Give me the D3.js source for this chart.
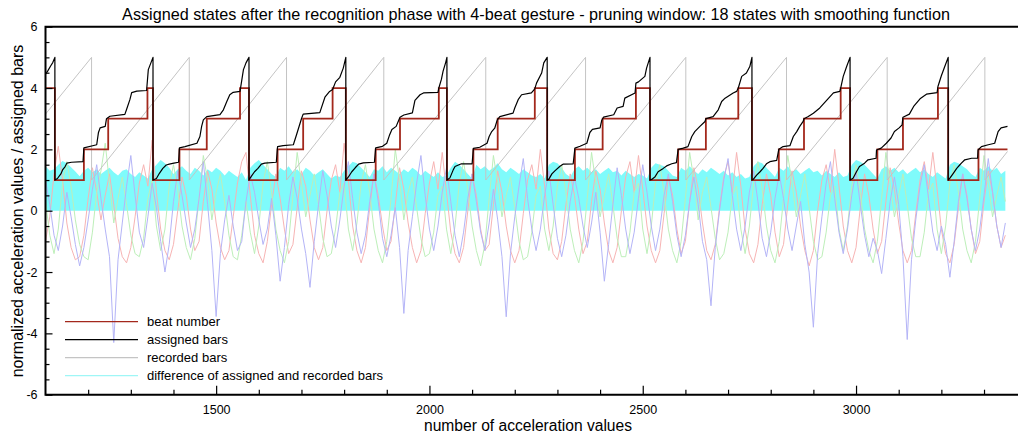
<!DOCTYPE html>
<html>
<head>
<meta charset="utf-8">
<script src="https://cdn.jsdelivr.net/npm/d3@7"></script>
<style>
  body { margin: 0; background: #fff; }
  svg { display: block; font-family: "Liberation Sans", Arial, Helvetica, sans-serif; }
</style>
</head>
<body>
<svg id="chart" width="1018" height="436"></svg>
<script>
// ---- data ----
let titleText = "Assigned states after the recognition phase with 4-beat gesture - pruning window: 18 states with smoothing function"
let xLabel = "number of acceleration values"
let yLabel = "normalized acceleration values / assigned bars"
let legendLabels = ["beat number", "assigned bars", "recorded bars", "difference of assigned and recorded bars"]

let xMajorTicks = [1500, 2000, 2500, 3000]
let xMinorTicks = [1200, 1300, 1400, 1600, 1700, 1800, 1900, 2100, 2200, 2300, 2400, 2600, 2700, 2800, 2900, 3100, 3200, 3300]
let yMajorTicks = [-6, -4, -2, 0, 2, 4, 6]
let yMinorTicks = [-5.5, -5, -4.5, -3.5, -3, -2.5, -1.5, -1, -0.5, 0.5, 1, 1.5, 2.5, 3, 3.5, 4.5, 5, 5.5]

// beat number: [sample where the step starts, beat]
let beatSteps = [
  [1100, 4], [1122, 1], [1190, 2], [1247, 3], [1339, 4],
  [1352, 1], [1414, 2], [1478, 3], [1556, 4],
  [1577, 1], [1644, 2], [1704, 3], [1773, 4],
  [1804, 1], [1874, 2], [1931, 3], [2022, 4],
  [2041, 1], [2103, 2], [2160, 3], [2247, 4],
  [2276, 1], [2341, 2], [2406, 3], [2484, 4],
  [2517, 1], [2583, 2], [2648, 3], [2724, 4],
  [2756, 1], [2819, 2], [2878, 3], [2964, 4],
  [2986, 1], [3050, 2], [3110, 3], [3192, 4],
  [3216, 1], [3287, 2], [3355, 2]
]

// assigned bars
let assignedBars = [
  [1100, 4.45], [1105, 4.55], [1112, 4.72], [1117, 4.83], [1122, 5.0],
  [1122, 1.0], [1128, 1.05], [1136, 1.2], [1140, 1.33], [1146, 1.44], [1150, 1.55], [1161, 1.58], [1188, 1.6],
  [1190, 2.05], [1220, 2.15], [1224, 2.54], [1228, 2.7], [1240, 2.75], [1243, 3.0], [1251, 3.08], [1286, 3.14],
  [1290, 3.3], [1298, 3.63], [1302, 3.85], [1314, 3.9], [1337, 3.92], [1341, 4.6], [1352, 5.0],
  [1352, 1.0], [1360, 1.05], [1367, 1.22], [1375, 1.38], [1383, 1.49], [1390, 1.52], [1401, 1.55], [1412, 1.58],
  [1414, 2.05], [1427, 2.09], [1435, 2.12], [1455, 2.2], [1462, 2.42], [1466, 2.75], [1470, 2.96], [1478, 3.07],
  [1509, 3.13], [1517, 3.29], [1525, 3.56], [1532, 3.78], [1540, 3.86], [1556, 3.89], [1564, 4.6], [1570, 4.82], [1577, 5.0],
  [1577, 1.0], [1582, 1.11], [1590, 1.27], [1598, 1.38], [1606, 1.52], [1614, 1.55], [1641, 1.58],
  [1644, 2.09], [1657, 2.12], [1681, 2.15], [1689, 2.5], [1700, 3.0], [1704, 3.15], [1743, 3.2],
  [1755, 3.7], [1766, 3.89], [1773, 3.95], [1780, 4.2], [1790, 4.35], [1798, 4.65], [1804, 5.0],
  [1804, 1.0], [1810, 1.1], [1818, 1.27], [1826, 1.4], [1834, 1.52], [1845, 1.56], [1871, 1.58],
  [1874, 2.05], [1890, 2.1], [1900, 2.2], [1906, 2.45], [1912, 2.65], [1922, 2.75], [1928, 2.95], [1931, 3.05],
  [1940, 3.12], [1960, 3.19], [1966, 3.6], [1978, 3.78], [1986, 3.84], [2020, 3.86], [2022, 4.0],
  [2028, 4.28], [2032, 4.55], [2038, 4.83], [2041, 5.0],
  [2041, 1.0], [2048, 1.07], [2056, 1.34], [2060, 1.44], [2068, 1.49], [2075, 1.53], [2100, 1.53],
  [2103, 2.03], [2118, 2.07], [2135, 2.2], [2140, 2.42], [2146, 2.58], [2153, 2.69], [2159, 2.96], [2165, 3.07],
  [2196, 3.18], [2200, 3.35], [2208, 3.62], [2216, 3.78], [2239, 3.84], [2247, 3.97], [2251, 4.16],
  [2263, 4.49], [2268, 4.82], [2276, 5.0],
  [2276, 1.0], [2280, 1.03], [2287, 1.2], [2294, 1.3], [2306, 1.45], [2314, 1.52], [2337, 1.53],
  [2341, 2.04], [2353, 2.1], [2369, 2.2], [2376, 2.55], [2382, 2.65], [2400, 2.7], [2404, 2.95],
  [2408, 3.05], [2432, 3.13], [2440, 3.35], [2454, 3.4], [2458, 3.67], [2482, 3.84], [2484, 4.16],
  [2490, 4.2], [2505, 4.38], [2509, 4.65], [2517, 5.0],
  [2517, 1.0], [2521, 1.02], [2529, 1.11], [2536, 1.27], [2548, 1.38], [2556, 1.46], [2568, 1.53], [2579, 1.57],
  [2583, 2.0], [2595, 2.04], [2606, 2.09], [2615, 2.42], [2622, 2.58], [2634, 2.75], [2646, 2.91], [2648, 3.0],
  [2665, 3.07], [2677, 3.29], [2685, 3.56], [2693, 3.67], [2712, 3.84], [2720, 3.89], [2724, 4.0],
  [2732, 4.38], [2743, 4.49], [2751, 4.7], [2756, 5.0],
  [2756, 1.0], [2759, 1.02], [2767, 1.16], [2775, 1.27], [2782, 1.38], [2790, 1.53], [2798, 1.6], [2814, 1.64],
  [2819, 2.0], [2829, 2.09], [2845, 2.12], [2853, 2.42], [2861, 2.58], [2868, 2.75], [2876, 2.91], [2878, 3.0],
  [2888, 3.07], [2900, 3.18], [2915, 3.35], [2931, 3.6], [2947, 3.84], [2962, 3.89], [2964, 4.0],
  [2970, 4.38], [2978, 4.7], [2986, 5.0],
  [2986, 1.0], [2993, 1.06], [3001, 1.27], [3008, 1.44], [3020, 1.55], [3028, 1.66], [3047, 1.71],
  [3048, 1.98], [3059, 2.04], [3071, 2.2], [3082, 2.37], [3090, 2.58], [3101, 2.7], [3108, 2.8], [3110, 3.05],
  [3125, 3.15], [3135, 3.4], [3150, 3.65], [3165, 3.8], [3190, 3.85], [3192, 4.05], [3200, 4.4], [3208, 4.7], [3216, 5.0],
  [3216, 1.0], [3220, 1.06], [3228, 1.22], [3236, 1.38], [3243, 1.49], [3247, 1.55], [3255, 1.66], [3271, 1.71], [3285, 1.71],
  [3286, 1.98], [3294, 2.09], [3310, 2.15], [3325, 2.2], [3333, 2.58], [3340, 2.7], [3355, 2.75]
]

// recorded bars
let recordedBars = [
  [1100, 3.15], [1208, 5], [1208, 1], [1437, 5], [1437, 1], [1665, 5], [1665, 1],
  [1893, 5], [1893, 1], [2132, 5], [2132, 1], [2366, 5], [2366, 1], [2601, 5], [2601, 1],
  [2837, 5], [2837, 1], [3073, 5], [3073, 1], [3302, 5], [3302, 1], [3355, 1.93]
]

// accelerometer channels and the difference curve, one value every 10 samples from 1100
let sampleStart = 1100
let sampleStep = 10

let accX = [
  -1.0, -0.2, 1.2, 2.1, 1.0, -0.4, -1.2, -1.6, -1.5, -0.8,
  0.4, 1.4, 0.6, -0.3, 0.5, 1.2, 0.2, -0.9, -1.5, -1.7,
  -1.2, -0.2, 0.9, 1.5, 0.8, 2.3, 0.6, -0.6, -1.3, -1.6,
  -1.1, 0.0, 1.1, 0.5, -0.6, -1.3, -1.0, 0.3, 1.3, 0.7,
  -0.4, -1.2, -1.6, -1.3, -0.2, 0.9, 1.6, 1.9, 0.5, -0.8,
  -1.4, -1.7, -1.0, 0.2, 1.2, 0.4, -0.6, -1.4, -1.1, 0.1,
  1.3, 0.8, -0.3, -1.2, -1.6, -1.2, 0.0, 1.0, 1.5, 0.6,
  2.2, 1.0, -0.5, -1.3, -1.7, -1.2, 0.1, 1.2, 0.5, -0.5,
  -1.3, -1.0, 0.2, 1.4, 0.7, -0.4, -1.2, -1.7, -1.3, -0.1,
  0.9, 1.6, 0.7, 1.9, 0.6, -0.7, -1.4, -1.7, -1.2, 0.0,
  1.2, 0.5, -0.6, -1.3, -1.1, 0.2, 1.3, 0.6, -0.5, -1.3,
  -1.7, -1.3, -0.1, 1.0, 1.5, 0.7, 2.0, 0.8, -0.6, -1.4,
  -1.6, -1.0, 0.2, 1.2, 0.5, -0.6, -1.4, -1.0, 0.3, 1.3,
  0.7, -0.4, -1.3, -1.7, -1.2, 0.0, 1.1, 1.6, 0.6, 1.8,
  0.7, -0.5, -1.3, -1.7, -1.3, -0.1, 1.1, 0.5, -0.6, -1.4,
  -1.0, 0.3, 1.4, 0.7, -0.4, -1.3, -1.6, -1.1, 0.1, 1.1,
  1.6, 0.6, 1.9, 0.8, -0.6, -1.4, -1.7, -1.1, 0.2, 1.2,
  0.5, -0.7, -1.5, -1.1, 0.2, 1.3, 0.6, -0.5, -1.3, -1.8,
  -1.3, 0.0, 1.0, 1.5, 0.6, 2.0, 0.8, -0.5, -1.3, -1.7,
  -1.2, 0.1, 1.2, 0.5, -0.6, -1.4, -1.0, 0.3, 1.4, 0.7,
  -0.4, -1.3, -1.7, -1.3, -0.1, 1.0, 1.6, 0.7, 1.9, 0.7,
  -0.6, -1.4, -1.7, -1.1, 0.1, 1.2, 0.5, -0.6, -1.4, -1.0,
  0.3, 1.3, 0.6, -0.5, -1.2, -0.8
]

let accY = [
  0.3, -0.8, -1.4, -0.6, 0.9, 1.6, 0.8, -0.3, -1.1, -1.5,
  -1.6, -0.7, 0.6, 1.3, 2.2, 0.9, -0.4, 0.4, 1.1, 0.2,
  -0.8, -1.4, -1.5, -0.9, 0.4, 1.0, -0.5, -1.3, -0.6, 0.8,
  1.5, 0.7, -0.5, -1.2, -1.6, -0.9, 0.4, 1.8, 1.0, -0.3,
  0.6, 1.2, 0.3, -0.8, -1.5, -1.6, -0.8, 0.3, -0.7, -1.4,
  -0.5, 0.9, 1.6, 0.6, -0.6, -1.3, -1.7, -1.0, 0.5, 1.9,
  0.9, -0.2, 0.5, 1.2, 0.2, -0.9, -1.5, -1.4, -0.6, 0.6,
  0.9, -0.6, -1.3, -0.4, 0.9, 1.5, 0.6, -0.6, -1.3, -1.7,
  -1.0, 0.4, 2.0, 1.0, -0.3, 0.6, 1.1, 0.1, -0.9, -1.5,
  -1.4, -0.7, 0.5, 0.8, -0.6, -1.4, -0.5, 0.9, 1.6, 0.7,
  -0.5, -1.3, -1.8, -1.1, 0.4, 1.8, 0.9, -0.2, 0.5, 1.1,
  0.1, -1.0, -1.6, -1.5, -0.7, 0.5, 0.8, -0.6, -1.3, -0.5,
  0.8, 1.5, 0.6, -0.6, -1.3, -1.7, -1.0, 0.4, 1.9, 0.9,
  -0.2, 0.5, 1.2, 0.2, -0.9, -1.5, -1.5, -0.7, 0.6, 0.9,
  -0.6, -1.4, -0.5, 0.9, 1.5, 0.6, -0.6, -1.3, -1.7, -1.0,
  0.4, 1.9, 1.0, -0.3, 0.6, 1.1, 0.1, -0.9, -1.6, -1.4,
  -0.7, 0.5, 0.8, -0.6, -1.4, -0.5, 0.9, 1.6, 0.7, -0.5,
  -1.3, -1.7, -1.0, 0.4, 1.8, 0.9, -0.2, 0.5, 1.2, 0.1,
  -1.0, -1.6, -1.5, -0.7, 0.5, 0.8, -0.6, -1.3, -0.5, 0.8,
  1.5, 0.6, -0.6, -1.3, -1.7, -1.0, 0.4, 1.9, 0.9, -0.2,
  0.5, 1.2, 0.2, -0.9, -1.5, -1.5, -0.7, 0.6, 0.9, -0.6,
  -1.4, -0.5, 0.9, 1.5, 0.6, -0.6, -1.3, -1.7, -1.0, 0.4,
  1.8, 0.9, -0.2, 0.5, 1.1, 0.3
]

let accZ = [
  1.0, 0.2, -0.8, -1.3, -0.5, 0.6, -0.2, -1.1, -1.8, -1.2,
  -0.3, 0.7, 1.5, 0.4, -0.6, -1.5, -4.3, -1.6, -0.4, 0.8,
  1.8, 0.5, -0.7, -1.2, -0.2, 0.9, 0.1, -1.0, -2.0, -1.1,
  0.3, 1.3, 0.5, -0.4, -1.2, -0.6, 0.4, 1.6, 0.2, -1.3,
  -3.45, -1.4, -0.3, 0.5, -0.5, -1.3, -1.0, 0.3, 1.2, 0.6,
  -0.3, -1.1, -0.6, 0.4, -0.8, -2.3, -1.2, 0.2, 1.1, 0.4,
  -0.6, -1.4, -2.5, -1.0, 0.2, 1.3, 0.5, -0.5, -1.2, -0.3,
  0.8, 1.6, 0.4, -0.7, -1.4, -0.8, 0.3, 1.2, 0.3, -0.9,
  -1.5, -0.8, 0.1, -1.2, -3.35, -1.3, -0.2, 0.9, 1.8, 0.5,
  -0.6, -1.3, -0.5, 0.6, 1.4, 0.3, -0.8, -1.5, -0.7, 0.4,
  1.2, 0.3, -0.7, -1.3, -0.4, 0.7, -0.3, -1.5, -3.46, -1.4,
  -0.2, 0.8, 1.7, 0.4, -0.6, -1.3, -0.6, 0.5, 1.3, 0.2,
  -0.9, -1.5, -0.8, 0.3, 1.1, 0.4, -0.5, -1.2, -0.4, 0.6,
  -0.7, -2.3, -1.1, 0.2, 1.4, 0.5, -0.6, -1.4, -0.7, 0.4,
  1.5, 0.6, -0.5, -1.3, -0.6, 0.5, 1.2, 0.3, -0.8, -1.5,
  -0.8, 0.3, 1.1, 0.2, -1.0, -1.6, -3.1, -1.2, 0.0, 1.0,
  1.7, 0.5, -0.6, -1.3, -0.5, 0.6, 1.3, 0.3, -0.9, -1.5,
  -0.7, 0.4, 1.2, 0.4, -0.6, -1.3, -0.5, 0.3, -1.1, -2.0,
  -3.8, -1.4, -0.2, 0.9, 1.6, 0.4, -0.7, -1.4, -0.6, 0.5,
  1.3, 0.2, -0.8, -1.5, -0.9, -1.3, -2.05, -0.9, 0.3, 1.1,
  0.2, -1.5, -4.2, -1.6, -0.3, 0.8, 1.5, 0.4, -0.7, -1.3,
  -0.5, -1.1, -2.17, -1.0, 0.3, 1.2, 0.4, -0.6, -1.3, -0.6,
  0.5, 1.7, 0.6, -0.5, -1.2, -0.4
]

let barDifference = [
  1.45, 1.3, 1.35, 1.5, 1.62, 1.55, 1.42, 1.28, 1.12, 1.3,
  1.4, 1.25, 1.35, 1.2, 1.3, 1.4, 1.25, 1.15, 1.3, 1.35,
  1.2, 1.1, 1.25, 1.15, 1.05, 1.35, 1.5, 1.65, 1.55, 1.4,
  1.2, 1.35, 1.45, 1.3, 1.2, 1.4, 1.3, 1.15, 1.35, 1.25,
  1.4, 1.3, 1.15, 1.3, 1.2, 1.1, 1.25, 1.0, 1.4, 1.55,
  1.65, 1.5, 1.35, 1.2, 1.1, 1.4, 1.3, 1.45, 1.25, 1.35,
  1.2, 1.4, 1.3, 1.15, 1.25, 1.35, 1.2, 1.05, 1.15, 1.1,
  1.3, 1.45, 1.6, 1.55, 1.4, 1.25, 1.1, 1.35, 1.3, 1.45,
  1.25, 1.4, 1.3, 1.2, 1.35, 1.25, 1.4, 1.3, 1.15, 1.3,
  1.2, 1.1, 1.25, 1.1, 1.15, 1.4, 1.6, 1.5, 1.35, 1.2,
  1.05, 1.5, 1.35, 1.45, 1.3, 1.4, 1.55, 1.35, 1.25, 1.4,
  1.3, 1.2, 1.35, 1.25, 1.15, 1.1, 1.2, 1.05, 1.5, 1.6,
  1.55, 1.4, 1.2, 1.1, 1.35, 1.45, 1.3, 1.4, 1.25, 1.35,
  1.2, 1.3, 1.4, 1.25, 1.3, 1.15, 1.3, 1.2, 1.1, 1.2,
  1.15, 1.05, 1.4, 1.55, 1.5, 1.45, 1.3, 1.15, 1.1, 1.4,
  1.3, 1.45, 1.3, 1.2, 1.35, 1.25, 1.4, 1.3, 1.2, 1.3,
  1.15, 1.25, 1.1, 1.2, 1.05, 1.1, 1.45, 1.6, 1.55, 1.4,
  1.25, 1.1, 1.4, 1.3, 1.45, 1.25, 1.35, 1.2, 1.3, 1.4,
  1.25, 1.3, 1.15, 1.3, 1.2, 1.1, 1.25, 1.1, 1.15, 1.5,
  1.65, 1.6, 1.5, 1.35, 1.2, 1.05, 1.35, 1.45, 1.3, 1.4,
  1.25, 1.35, 1.2, 1.3, 1.4, 1.25, 1.35, 1.2, 1.1, 1.25,
  1.15, 1.05, 1.5, 1.6, 1.55, 1.45, 1.35, 1.2, 1.1, 1.4,
  1.3, 1.45, 1.3, 1.4, 1.2, 1.3
]

// ---- drawing ----
let colors = {
  beat: "#a3281c",
  assigned: "#000000",
  recorded: "#c4c4c4",
  diff: "#7ffbfb",
  diffLegend: "#9ff6f6",
  accX: "#f7b4b4",
  accY: "#bdefb9",
  accZ: "#b4b4f7"
}

let width = 1018
let height = 436
let svg = d3.select("#chart")

let X = d3.scaleLinear()
          .domain([1100, 3400])
          .range([45.5, 45.5 + 2300 * 213.3 / 500])

let Y = d3.scaleLinear()
          .domain([-6, 6])
          .range([394.7, 26.7])

function sampled(values) {
    return values.map((v, i) => [sampleStart + i * sampleStep, v])
}

let plot = svg.append("g")

// difference of assigned and recorded bars (filled down to zero)
let area = d3.area()
             .x(d => X(d[0]))
             .y0(Y(0))
             .y1(d => Y(d[1]))
plot.append("path")
    .attr("fill", colors.diff)
    .attr("d", area(sampled(barDifference)))

let line = d3.line()
             .x(d => X(d[0]))
             .y(d => Y(d[1]))

// acceleration channels
let channels = [[accX, colors.accX], [accY, colors.accY], [accZ, colors.accZ]]
channels.forEach(([vals, c]) => {
    plot.append("path")
        .attr("fill", "none")
        .attr("stroke", c)
        .attr("stroke-width", 1)
        .attr("stroke-linejoin", "round")
        .attr("d", line(sampled(vals)))
})

// recorded bars
plot.append("path")
    .attr("fill", "none")
    .attr("stroke", colors.recorded)
    .attr("stroke-width", 1)
    .attr("d", line(recordedBars))

// beat number
let stepLine = d3.line()
                 .x(d => X(d[0]))
                 .y(d => Y(d[1]))
                 .curve(d3.curveStepAfter)
plot.append("path")
    .attr("fill", "none")
    .attr("stroke", colors.beat)
    .attr("stroke-width", 1.8)
    .attr("d", stepLine(beatSteps))

// assigned bars
plot.append("path")
    .attr("fill", "none")
    .attr("stroke", colors.assigned)
    .attr("stroke-width", 1.2)
    .attr("stroke-linejoin", "round")
    .attr("d", line(assignedBars))

// ---- axes ----
let x0 = X.range()[0]
let yBottom = Y(-6)
let yTop = Y(6)

let xMajor = d3.axisBottom(X).tickValues(xMajorTicks).tickSize(-9).tickSizeOuter(0).tickPadding(10).tickFormat(d => String(d))
let xMinor = d3.axisBottom(X).tickValues(xMinorTicks).tickSize(-5).tickSizeOuter(0).tickFormat("")
let yMajor = d3.axisLeft(Y).tickValues(yMajorTicks).tickSize(-7).tickSizeOuter(0).tickPadding(8).tickFormat(d => String(d))
let yMinor = d3.axisLeft(Y).tickValues(yMinorTicks).tickSize(-4).tickSizeOuter(0).tickFormat("")

function styleAxis(g) {
    g.select(".domain").remove()
    g.selectAll(".tick line").attr("stroke", "#000").attr("stroke-width", 1.2)
    g.selectAll(".tick text").attr("font-size", "12.5px").attr("fill", "#000")
       .attr("font-family", "'Liberation Sans', Arial, Helvetica, sans-serif")
}

svg.append("g").attr("transform", "translate(0," + yBottom + ")").call(xMajor).call(styleAxis)
svg.append("g").attr("transform", "translate(0," + yBottom + ")").call(xMinor).call(styleAxis)
svg.append("g").attr("transform", "translate(" + x0 + ",0)").call(yMajor).call(styleAxis)
svg.append("g").attr("transform", "translate(" + x0 + ",0)").call(yMinor).call(styleAxis)

// frame
svg.append("path")
   .attr("fill", "none")
   .attr("stroke", "#000")
   .attr("stroke-width", 2)
   .attr("d", "M" + (width + 5) + "," + yTop + "H" + x0 + "V" + yBottom + "H" + (width + 5))

// ---- texts ----
svg.append("text")
   .attr("x", 536)
   .attr("y", 20)
   .attr("text-anchor", "middle")
   .attr("font-size", "16.2px")
   .text(titleText)

svg.append("text")
   .attr("x", 528)
   .attr("y", 431)
   .attr("text-anchor", "middle")
   .attr("font-size", "15.6px")
   .text(xLabel)

svg.append("text")
   .attr("transform", "translate(23," + 211 + ") rotate(-90)")
   .attr("text-anchor", "middle")
   .attr("font-size", "16px")
   .text(yLabel)

// ---- legend ----
let legendColors = [colors.beat, colors.assigned, colors.recorded, colors.diffLegend]
let legend = svg.append("g")
legendLabels.forEach((label, i) => {
    let ly = 321.7 + i * 18
    legend.append("line")
          .attr("x1", 65).attr("x2", 138)
          .attr("y1", ly).attr("y2", ly)
          .attr("stroke", legendColors[i])
          .attr("stroke-width", 1.2)
    legend.append("text")
          .attr("x", 147)
          .attr("y", ly + 4.5)
          .attr("font-size", "13px")
          .text(label)
})
</script>
</body>
</html>
